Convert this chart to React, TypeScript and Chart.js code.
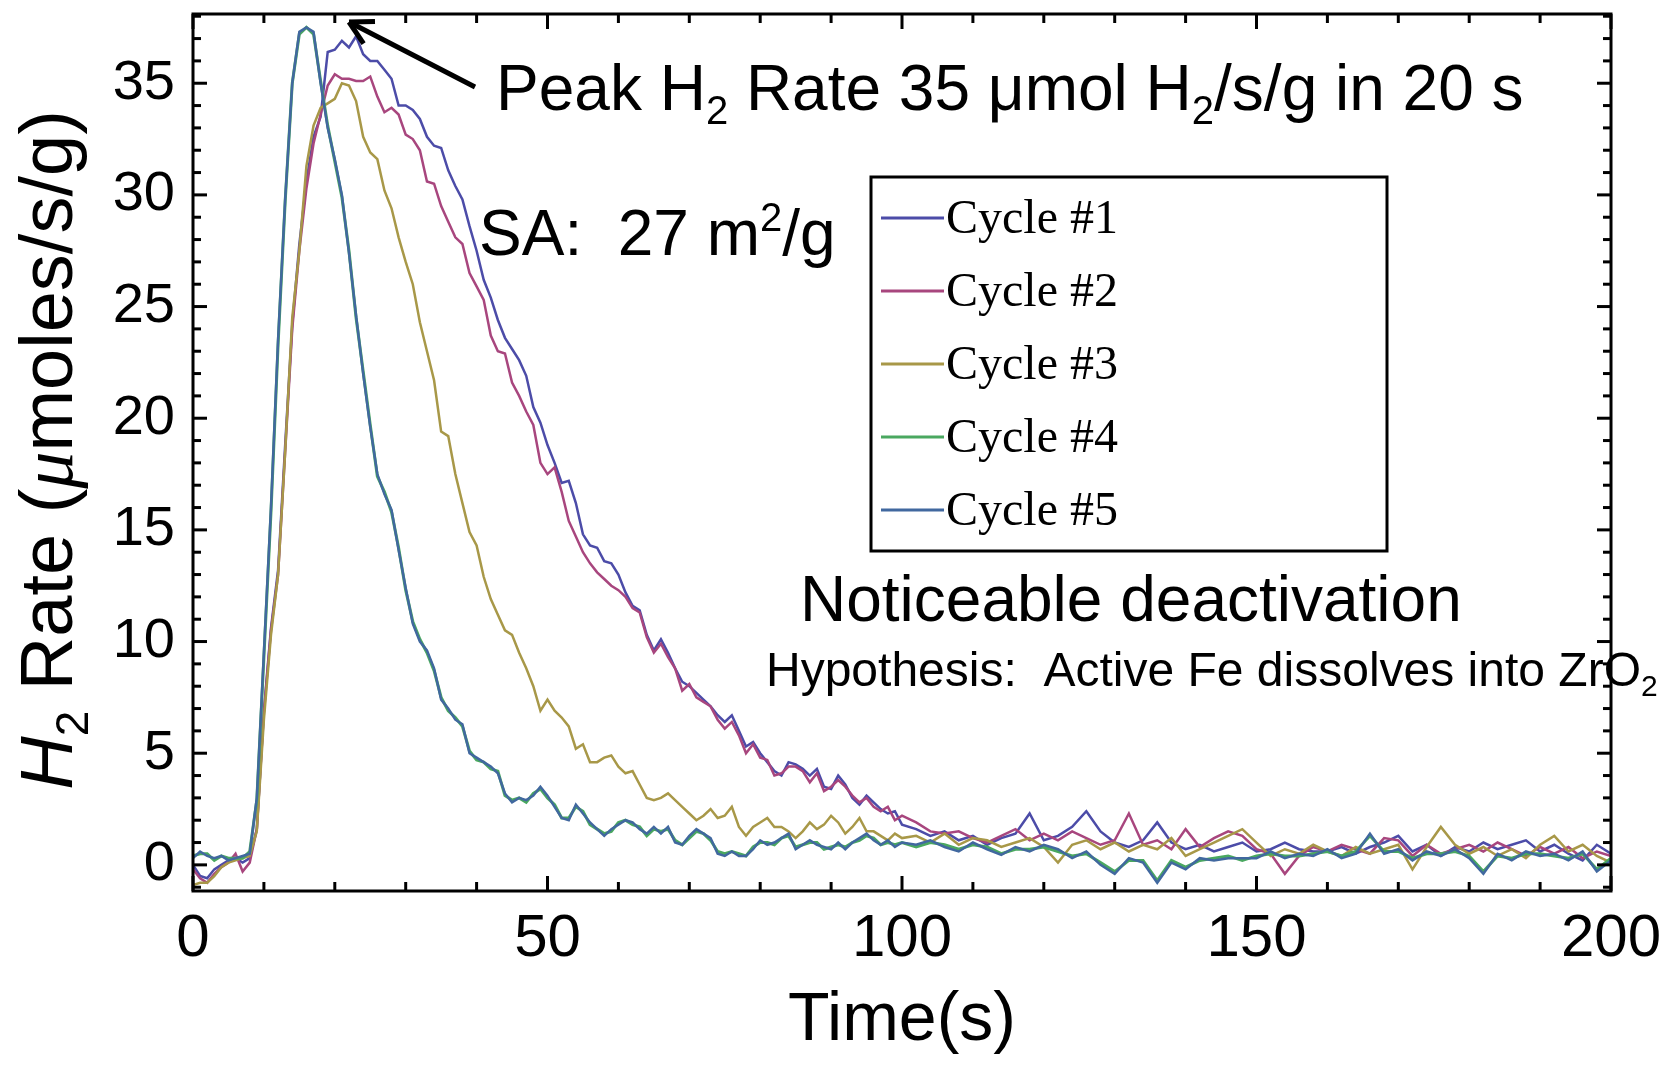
import { useEffect, useRef } from 'react';
import { Chart, registerables } from 'chart.js';

Chart.register(...registerables);

// ---------------- data ----------------
const times = [
  0, 1, 2, 3, 4, 5, 6, 7, 8, 9,
  10, 11, 12, 13, 14, 15, 16, 17, 18, 19,
  20, 21, 22, 23, 24, 25, 26, 27, 28, 29,
  30, 31, 32, 33, 34, 35, 36, 37, 38, 39,
  40, 41, 42, 43, 44, 45, 46, 47, 48, 49,
  50, 51, 52, 53, 54, 55, 56, 57, 58, 59,
  60, 61, 62, 63, 64, 65, 66, 67, 68, 69,
  70, 71, 72, 73, 74, 75, 76, 77, 78, 79,
  80, 81, 82, 83, 84, 85, 86, 87, 88, 89,
  90, 91, 92, 93, 94, 95, 96, 97, 98, 99,
  100,
  102, 104, 106, 108, 110, 112, 114, 116, 118, 120,
  122, 124, 126, 128, 130, 132, 134, 136, 138, 140,
  142, 144, 146, 148, 150, 152, 154, 156, 158, 160,
  162, 164, 166, 168, 170, 172, 174, 176, 178, 180,
  182, 184, 186, 188, 190, 192, 194, 196, 198, 200,
];

const cycle1 = [
  0.0, -0.5, -0.6, -0.2, 0.0, 0.2, 0.3, 0.1, 0.3, 1.6,
  6.9, 10.6, 13.2, 18.8, 24.2, 27.8, 30.6, 32.6, 33.5, 36.4,
  36.5, 36.9, 36.6, 37.1, 36.3, 36.0, 36.0, 35.6, 35.2, 34.0,
  34.0, 33.8, 33.4, 32.6, 32.2, 32.1, 31.1, 30.4, 29.8, 28.6,
  27.5, 26.2, 25.4, 24.4, 23.6, 23.1, 22.6, 21.9, 20.5, 19.8,
  18.8, 18.0, 17.1, 17.2, 16.2, 14.8, 14.3, 14.2, 13.6, 13.5,
  13.0, 12.2, 11.6, 11.4, 10.3, 9.6, 10.1, 9.5, 8.8, 8.2,
  8.0, 7.7, 7.4, 7.1, 6.7, 6.4, 6.7, 6.0, 5.3, 5.5,
  5.0, 4.6, 4.2, 4.0, 4.6, 4.5, 4.3, 4.0, 4.3, 3.5,
  3.4, 4.0, 3.6, 3.0, 2.7, 3.1, 2.8, 2.5, 2.3, 2.4,
  1.8,
  1.6, 1.3, 1.5, 1.1, 1.3, 0.9, 1.2, 1.4, 2.3, 1.1,
  1.3, 1.7, 2.4, 1.5, 1.0, 0.8, 1.1, 1.9, 1.0, 0.7,
  0.9, 0.6, 0.8, 1.0, 0.6, 0.7, 1.0, 0.7, 0.6, 0.6,
  0.8, 0.5, 0.8, 1.0, 1.3, 0.6, 0.9, 0.4, 0.8, 0.6,
  1.0, 0.7, 0.9, 1.1, 0.6, 0.9, 0.5, 0.2, 0.9, 0.5,
];

const cycle2 = [
  -0.2, -0.6, -0.8, -0.4, -0.1, 0.1, 0.5, -0.3, 0.1, 1.6,
  6.8, 10.5, 13.0, 18.5, 24.0, 27.5, 30.3, 32.3, 33.6, 34.9,
  35.4, 35.2, 35.2, 35.1, 35.1, 35.3, 34.4, 33.7, 33.9, 33.6,
  32.7, 32.5, 32.0, 30.6, 30.5, 29.5, 28.8, 28.1, 27.8, 26.5,
  25.9, 25.3, 23.7, 23.0, 22.9, 21.6, 21.0, 20.3, 19.7, 18.0,
  17.5, 17.8, 16.7, 15.4, 14.7, 14.0, 13.5, 13.1, 12.8, 12.5,
  12.3, 12.0, 11.5, 11.3, 10.2, 9.5, 9.9, 9.3, 8.8, 7.8,
  8.1, 7.5, 7.3, 7.1, 6.5, 6.1, 6.4, 5.8, 5.0, 5.4,
  4.8, 4.7, 4.0, 4.1, 4.4, 4.4, 4.2, 3.7, 4.1, 3.3,
  3.5, 3.8, 3.5, 3.1, 2.8, 3.0, 2.6, 2.4, 2.6, 2.0,
  2.2,
  1.9, 1.5, 1.4, 1.5, 1.2, 1.0, 1.3, 1.6, 1.1, 1.4,
  1.1, 1.5, 1.2, 0.9, 1.1, 2.3, 0.9, 1.1, 0.7, 1.6,
  0.8, 1.2, 1.5, 1.3, 0.7, 0.5, -0.4, 0.4, 0.8, 0.6,
  0.9, 0.7, 0.5, 1.2, 1.1, 0.4, 0.9, 0.5, 0.7, 0.9,
  0.6, 1.0, 0.7, 0.4, 0.8, 0.5, 0.8, 0.3, 0.6, 0.4,
];

const cycle3 = [
  -0.9, -0.8, -0.8, -0.5, -0.1, 0.1, 0.2, 0.3, 0.4, 1.5,
  6.5, 10.3, 13.0, 18.5, 24.5, 27.5, 31.3, 33.1, 33.9, 34.1,
  34.3, 35.0, 34.9, 34.2, 32.6, 31.9, 31.6, 30.2, 29.4, 28.1,
  27.0, 26.0, 24.3, 23.0, 21.7, 19.4, 19.2, 17.5, 16.2, 14.9,
  14.3, 12.9, 11.9, 11.2, 10.5, 10.3, 9.5, 8.8, 8.0, 6.9,
  7.4, 6.9, 6.6, 6.2, 5.2, 5.4, 4.6, 4.6, 4.8, 4.9,
  4.4, 4.1, 4.2, 3.6, 3.0, 2.9, 3.0, 3.2, 2.9, 2.6,
  2.3, 2.0, 2.2, 2.5, 2.1, 2.2, 2.6, 1.7, 1.3, 1.7,
  1.9, 2.1, 1.7, 1.7, 1.5, 1.2, 1.5, 1.9, 1.6, 1.8,
  2.2, 1.9, 1.4, 1.7, 2.1, 1.5, 1.5, 1.3, 1.1, 1.4,
  1.2,
  1.3, 1.0, 1.4, 0.9, 1.2, 1.1, 0.8, 1.0, 1.2, 0.8,
  0.1, 0.9, 1.1, 0.7, 1.0, 0.6, 0.9, 0.7, 1.2, 0.4,
  0.7, 1.0, 1.3, 1.6, 1.0, 0.4, 0.7, 0.5, 0.9, 0.6,
  0.4, 0.8, 0.5, 0.7, 0.9, -0.2, 0.8, 1.7, 0.9, 0.5,
  0.8, 0.4, 0.7, 0.3, 0.9, 1.3, 0.6, 0.9, 0.4, 0.1,
];

const cycle4 = [
  0.4, 0.5, 0.5, 0.2, 0.4, 0.3, 0.3, 0.3, 0.6, 2.9,
  9.3, 15.8, 23.3, 29.7, 35.0, 37.2, 37.5, 37.2, 35.1, 33.1,
  31.5, 29.9, 27.5, 24.5, 22.1, 19.7, 17.4, 16.7, 15.8, 14.2,
  12.3, 10.9, 10.1, 9.5, 8.7, 7.5, 6.9, 6.6, 6.2, 5.1,
  4.7, 4.6, 4.3, 4.2, 3.1, 2.9, 3.0, 2.8, 3.2, 3.4,
  3.0, 2.7, 2.1, 2.1, 2.6, 2.4, 1.8, 1.6, 1.4, 1.5,
  1.9, 2.0, 1.8, 1.7, 1.3, 1.6, 1.5, 1.6, 1.1, 0.9,
  1.2, 1.5, 1.4, 1.1, 0.6, 0.5, 0.6, 0.5, 0.4, 0.8,
  1.0, 1.0, 0.9, 1.2, 1.3, 0.8, 0.9, 1.0, 1.0, 0.7,
  0.8, 0.9, 0.8, 1.0, 1.1, 1.3, 1.2, 0.9, 1.0, 0.9,
  1.0,
  0.8, 1.0, 0.9, 0.7, 0.9, 0.8, 0.5, 0.7, 0.7, 0.8,
  0.6, 0.4, 0.5, 0.1, -0.3, 0.2, 0.2, -0.7, 0.2, -0.1,
  0.2, 0.3, 0.4, 0.2, 0.4, 0.5, 0.4, 0.4, 0.5, 0.6,
  0.4, 0.6, 1.3, 0.6, 0.6, 0.3, 0.5, 0.5, 0.6, 0.4,
  -0.3, 0.4, 0.3, 0.5, 0.5, 0.4, 0.3, 0.5, -0.2, 0.3,
];

const cycle5 = [
  0.3, 0.6, 0.4, 0.3, 0.4, 0.2, 0.3, 0.4, 0.5, 3.0,
  9.5, 16.0, 23.5, 29.8, 35.0, 37.3, 37.5, 37.3, 35.0, 33.0,
  31.6, 30.0, 27.4, 24.6, 22.0, 19.6, 17.5, 16.6, 15.9, 14.1,
  12.4, 10.8, 10.0, 9.6, 8.8, 7.4, 7.0, 6.5, 6.3, 5.0,
  4.8, 4.6, 4.4, 4.1, 3.2, 2.8, 3.0, 2.9, 3.1, 3.5,
  3.1, 2.6, 2.1, 2.0, 2.7, 2.3, 1.9, 1.6, 1.3, 1.6,
  1.8, 2.0, 1.9, 1.6, 1.4, 1.7, 1.4, 1.7, 1.0, 0.9,
  1.3, 1.6, 1.4, 1.2, 0.5, 0.4, 0.6, 0.4, 0.4, 0.7,
  1.1, 0.9, 1.0, 1.2, 1.4, 0.7, 0.9, 1.1, 0.9, 0.8,
  0.7, 1.0, 0.7, 1.0, 1.2, 1.4, 1.1, 0.9, 1.1, 0.8,
  1.0,
  0.9, 1.1, 0.8, 0.6, 1.0, 0.7, 0.45, 0.8, 0.6, 0.9,
  0.7, 0.3, 0.6, 0.0, -0.4, 0.3, 0.1, -0.8, 0.1, -0.2,
  0.3, 0.2, 0.3, 0.3, 0.3, 0.6, 0.3, 0.5, 0.4, 0.7,
  0.3, 0.5, 1.4, 0.5, 0.7, 0.2, 0.6, 0.4, 0.7, 0.3,
  -0.4, 0.5, 0.2, 0.6, 0.4, 0.5, 0.2, 0.6, -0.3, 0.2,
];

const seriesLabels = ['Cycle #1', 'Cycle #2', 'Cycle #3', 'Cycle #4', 'Cycle #5'];
const seriesValues = [cycle1, cycle2, cycle3, cycle4, cycle5];
const seriesColors = ['#4c4ca8', '#a8467e', '#a89848', '#4aa860', '#41689f'];
const seriesWidths = [2.5, 2.5, 2.5, 3, 2.5];

const xMajorTicks = [0, 50, 100, 150, 200];
const yMajorTicks = [0, 5, 10, 15, 20, 25, 30, 35];

// ---------------- drawing helpers ----------------
const SANS = '"Liberation Sans", Arial, Helvetica, sans-serif';
const SERIF = '"Liberation Serif", "Times New Roman", serif';

type Run = { text: string; font: string; dy?: number };

function runsWidth(ctx: CanvasRenderingContext2D, runs: Run[]) {
  let w = 0;
  for (const r of runs) {
    ctx.font = r.font;
    w += ctx.measureText(r.text).width;
  }
  return w;
}

function drawRuns(ctx: CanvasRenderingContext2D, runs: Run[], x: number, y: number) {
  let cx = x;
  for (const r of runs) {
    ctx.font = r.font;
    ctx.fillText(r.text, cx, y + (r.dy || 0));
    cx += ctx.measureText(r.text).width;
  }
}

const decorPlugin = {
  id: 'decor',
  afterDraw(chart: any) {
    const { ctx, chartArea: a, scales } = chart;
    const xs = scales.x;
    const ys = scales.y;
    ctx.save();
    ctx.strokeStyle = '#000';
    ctx.fillStyle = '#000';
    ctx.lineWidth = 3;
    ctx.lineCap = 'butt';

    // frame
    ctx.strokeRect(a.left, a.top, a.right - a.left, a.bottom - a.top);

    const seg = (x1: number, y1: number, x2: number, y2: number) => {
      ctx.beginPath();
      ctx.moveTo(x1, y1);
      ctx.lineTo(x2, y2);
      ctx.stroke();
    };

    // inward ticks, all four sides
    xs.ticks.forEach((t: any) => {
      const px = xs.getPixelForValue(t.value);
      const len = xMajorTicks.includes(t.value) ? 15 : 9;
      seg(px, a.bottom, px, a.bottom - len);
      seg(px, a.top, px, a.top + len);
    });
    ys.ticks.forEach((t: any) => {
      const py = ys.getPixelForValue(t.value);
      const len = yMajorTicks.includes(t.value) ? 14 : 8;
      seg(a.left, py, a.left + len, py);
      seg(a.right, py, a.right - len, py);
    });

    ctx.textAlign = 'left';
    ctx.textBaseline = 'alphabetic';

    // y axis title (rotated)
    const yTitle: Run[] = [
      { text: 'H', font: `italic 74px ${SANS}` },
      { text: '2', font: `46px ${SANS}`, dy: 16 },
      { text: ' Rate (', font: `74px ${SANS}` },
      { text: 'μ', font: `italic 74px ${SERIF}` },
      { text: 'moles/s/g)', font: `74px ${SANS}` },
    ];
    ctx.save();
    ctx.translate(72, 450);
    ctx.rotate(-Math.PI / 2);
    const yw = runsWidth(ctx, yTitle);
    drawRuns(ctx, yTitle, -yw / 2, 0);
    ctx.restore();

    // annotations
    drawRuns(ctx, [
      { text: 'Peak H', font: `64px ${SANS}` },
      { text: '2', font: `40px ${SANS}`, dy: 14 },
      { text: ' Rate 35 μmol H', font: `64px ${SANS}` },
      { text: '2', font: `40px ${SANS}`, dy: 14 },
      { text: '/s/g in 20 s', font: `64px ${SANS}` },
    ], 496, 110);

    drawRuns(ctx, [
      { text: 'SA:  27 m', font: `64px ${SANS}` },
      { text: '2', font: `40px ${SANS}`, dy: -24 },
      { text: '/g', font: `64px ${SANS}` },
    ], 479, 255);

    drawRuns(ctx, [{ text: 'Noticeable deactivation', font: `64px ${SANS}` }], 800, 621);
    drawRuns(ctx, [
      { text: 'Hypothesis:  Active Fe dissolves into ZrO', font: `48px ${SANS}` },
      { text: '2', font: `30px ${SANS}`, dy: 10 },
    ], 766, 686);

    // arrow
    const tx = 475, ty = 87, hx = 349, hy = 22;
    ctx.lineWidth = 5;
    seg(tx, ty, hx, hy);
    const ang = Math.atan2(ty - hy, tx - hx);
    const hl = 26;
    const spread = 0.5;
    seg(hx, hy, hx + hl * Math.cos(ang - spread), hy + hl * Math.sin(ang - spread));
    seg(hx, hy, hx + hl * Math.cos(ang + spread), hy + hl * Math.sin(ang + spread));

    // legend box
    ctx.lineWidth = 3;
    ctx.strokeRect(871, 177, 516, 374);
    chart.data.datasets.forEach((ds: any, i: number) => {
      const ly = 218 + 73 * i;
      ctx.strokeStyle = ds.borderColor;
      ctx.lineWidth = 3;
      seg(881, ly, 944, ly);
      ctx.fillStyle = '#000';
      ctx.font = `48px ${SERIF}`;
      ctx.textBaseline = 'middle';
      ctx.fillText(ds.label, 946, ly + 2);
    });

    ctx.restore();
  },
};

export default function App() {
  const ref = useRef<HTMLCanvasElement>(null);

  useEffect(() => {
    const datasets = seriesValues.map((vals, i) => ({
      label: seriesLabels[i],
      data: times.map((t, j) => ({ x: t, y: vals[j] })),
      borderColor: seriesColors[i],
      backgroundColor: seriesColors[i],
      borderWidth: seriesWidths[i],
      pointRadius: 0,
      tension: 0,
      fill: false,
      order: 5 - i,
    }));

    const chart = new Chart(ref.current as HTMLCanvasElement, {
      type: 'line',
      data: { datasets },
      options: {
        responsive: false,
        animation: false,
        devicePixelRatio: 1,
        layout: { padding: { left: 0, right: 52, top: 14, bottom: 0 } },
        plugins: {
          legend: { display: false },
          tooltip: { enabled: false },
          title: { display: false },
        },
        scales: {
          x: {
            type: 'linear',
            min: 0,
            max: 200,
            grid: { display: false, drawTicks: false },
            border: { display: false },
            ticks: {
              stepSize: 10,
              autoSkip: false,
              maxRotation: 0,
              includeBounds: false,
              padding: 12,
              color: '#000',
              font: { family: SANS, size: 60 },
              callback: (v: any) => (xMajorTicks.includes(Number(v)) ? String(v) : ''),
            },
            title: {
              display: true,
              text: 'Time(s)',
              color: '#000',
              font: { family: SANS, size: 68 },
              padding: { top: 0, bottom: 5 },
            },
            afterFit: (scale: any) => {
              scale.height = 176;
              scale.paddingLeft = 0;
              scale.paddingRight = 0;
              scale.paddingTop = 0;
              scale.paddingBottom = 0;
            },
          },
          y: {
            type: 'linear',
            min: -1.17,
            max: 38.1,
            grid: { display: false, drawTicks: false },
            border: { display: false },
            ticks: {
              stepSize: 1,
              autoSkip: false,
              includeBounds: false,
              padding: 18,
              color: '#000',
              font: { family: SANS, size: 56 },
              callback: (v: any) => (yMajorTicks.includes(Number(v)) ? String(v) : ''),
            },
            afterFit: (scale: any) => {
              scale.width = 193;
              scale.paddingLeft = 0;
              scale.paddingRight = 0;
              scale.paddingTop = 0;
              scale.paddingBottom = 0;
            },
          },
        },
      },
      plugins: [decorPlugin],
    });
    return () => chart.destroy();
  }, []);

  return (
    <div style={{ position: 'absolute', left: 0, top: 0, width: 1663, height: 1067, background: '#fff' }}>
      <canvas ref={ref} width={1663} height={1067} style={{ display: 'block', width: 1663, height: 1067 }} />
    </div>
  );
}
